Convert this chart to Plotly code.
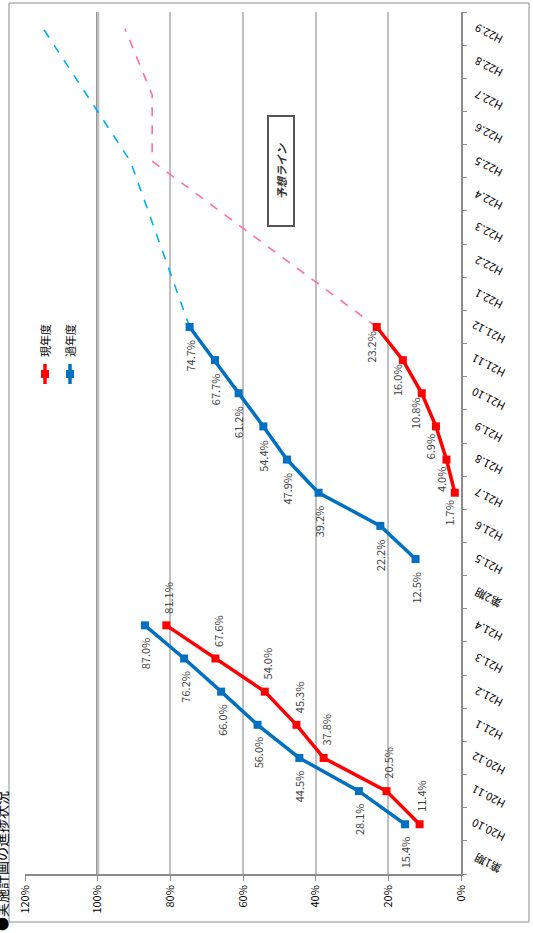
import plotly.graph_objects as go

# ---------------- data ----------------
categories = ["第1期", "H20.10", "H20.11", "H20.12", "H21.1", "H21.2", "H21.3", "H21.4",
              "第2期", "H21.5", "H21.6", "H21.7", "H21.8", "H21.9", "H21.10", "H21.11",
              "H21.12", "H22.1", "H22.2", "H22.3", "H22.4", "H22.5", "H22.6", "H22.7",
              "H22.8", "H22.9"]

p1_cats = ["H20.10", "H20.11", "H20.12", "H21.1", "H21.2", "H21.3", "H21.4"]
current_p1 = [11.4, 20.5, 37.8, 45.3, 54.0, 67.6, 81.1]
past_p1 = [15.4, 28.1, 44.5, 56.0, 66.0, 76.2, 87.0]

current_p2_cats = ["H21.7", "H21.8", "H21.9", "H21.10", "H21.11", "H21.12"]
current_p2 = [1.7, 4.0, 6.9, 10.8, 16.0, 23.2]

past_p2_cats = ["H21.5", "H21.6", "H21.7", "H21.8", "H21.9", "H21.10", "H21.11", "H21.12"]
past_p2 = [12.5, 22.2, 39.2, 47.9, 54.4, 61.2, 67.7, 74.7]

current_fc_cats = ["H21.12", "H22.5", "H22.6", "H22.7", "H22.9"]
current_fc = [23.2, 85.0, 85.0, 85.0, 92.5]

past_fc_cats = ["H21.12", "H22.5", "H22.9"]
past_fc = [74.7, 91.0, 115.0]

value_ticks = [0, 20, 40, 60, 80, 100, 120]
value_tick_labels = ["0%", "20%", "40%", "60%", "80%", "100%", "120%"]

series_names = ["現年度", "過年度"]
title_text = "●実施計画の進捗状況"
forecast_text = "予想ライン"

# ---------------- style ----------------
RED = "#FF0000"
BLUE = "#0070C0"
PINK = "#FF6FA3"
CYAN = "#00B0F0"
FONT = "Noto Sans CJK JP"
LBL = "#404040"

W, H = 533, 933
L, R, T, B = 25, 72, 12, 59
pw, ph = W - L - R, H - T - B


def px2paper_x(px):
    return (px - L) / pw


def px2paper_y(py):
    return (H - B - py) / ph


fig = go.Figure()

# forecast lines
fig.add_trace(go.Scatter(x=current_fc, y=current_fc_cats, mode="lines",
                         line=dict(color=PINK, width=1.6, dash="dash"), hoverinfo="skip"))
fig.add_trace(go.Scatter(x=past_fc, y=past_fc_cats, mode="lines",
                         line=dict(color=CYAN, width=1.6, dash="dash"), hoverinfo="skip"))

# actual lines
for xs, ys, col in [(past_p1, p1_cats, BLUE), (past_p2, past_p2_cats, BLUE),
                    (current_p1, p1_cats, RED), (current_p2, current_p2_cats, RED)]:
    fig.add_trace(go.Scatter(x=xs, y=ys, mode="lines+markers",
                             line=dict(color=col, width=3.5),
                             marker=dict(symbol="square", size=8, color=col)))

annotations = []


def add_labels(xs, ys, xshift, yshift):
    for v, c in zip(xs, ys):
        annotations.append(dict(x=v, y=c, xref="x", yref="y", text=f"{v:.1f}%",
                                showarrow=False, textangle=-90,
                                xanchor="center", yanchor="middle",
                                font=dict(family=FONT, size=11, color=LBL),
                                xshift=xshift, yshift=yshift))


add_labels(past_p1, p1_cats, 0, -28)
add_labels(past_p2, past_p2_cats, 0, -29)
add_labels(current_p1, p1_cats, 2, 28)
add_labels(current_p2, current_p2_cats, -6, -20)

# category labels (slanted, upside down like the source)
for c in categories:
    annotations.append(dict(x=px2paper_x(488), y=c, xref="paper", yref="y", text=c,
                            showarrow=False, textangle=-153,
                            xanchor="center", yanchor="middle", yshift=-6,
                            font=dict(family=FONT, size=11, color="#000000")))

# forecast label box
annotations.append(dict(x=px2paper_x(281.5), y=px2paper_y(171.5), xref="paper", yref="paper",
                        xanchor="center", yanchor="middle",
                        text=f"<b><i>{forecast_text}</i></b>", showarrow=False, textangle=-90,
                        font=dict(family=FONT, size=11, color="#333333"),
                        width=104, height=20, bgcolor="white",
                        bordercolor="#555555", borderwidth=2, borderpad=2))

# legend
for name, lx in [(series_names[0], 45), (series_names[1], 70)]:
    annotations.append(dict(x=px2paper_x(lx), y=px2paper_y(341), xref="paper", yref="paper",
                            xanchor="center", yanchor="middle",
                            text=name, showarrow=False, textangle=-90,
                            font=dict(family=FONT, size=11, color="#000000")))

# title (partly cut off at left edge, as in the source)
annotations.append(dict(x=px2paper_x(1), y=px2paper_y(933), xref="paper", yref="paper",
                        xanchor="center", yanchor="bottom",
                        text=title_text, showarrow=False, textangle=-90,
                        font=dict(family=FONT, size=14, color="#000000")))

shapes = []
# 100% emphasised line
shapes.append(dict(type="line", xref="x", yref="paper", x0=100, x1=100, y0=0, y1=1,
                   line=dict(color="#7F7F7F", width=3), layer="below"))
# legend glyphs
for col, lx in [(RED, 45), (BLUE, 70)]:
    shapes.append(dict(type="line", xref="paper", yref="paper",
                       x0=px2paper_x(lx), x1=px2paper_x(lx),
                       y0=px2paper_y(384), y1=px2paper_y(364),
                       line=dict(color=col, width=3.5)))
    shapes.append(dict(type="rect", xref="paper", yref="paper",
                       x0=px2paper_x(lx - 4), x1=px2paper_x(lx + 4),
                       y0=px2paper_y(378), y1=px2paper_y(370),
                       line=dict(width=0), fillcolor=col))
# outer frame
shapes.append(dict(type="rect", xref="paper", yref="paper",
                   x0=px2paper_x(9), x1=px2paper_x(529),
                   y0=px2paper_y(922), y1=px2paper_y(3),
                   line=dict(color="#8C8C8C", width=1), layer="below"))

fig.update_layout(
    width=W, height=H,
    margin=dict(l=L, r=R, t=T, b=B, autoexpand=False),
    paper_bgcolor="white", plot_bgcolor="white",
    showlegend=False,
    font=dict(family=FONT, size=11, color="#000000"),
    annotations=annotations,
    shapes=shapes,
    xaxis=dict(range=[120, 0], tickvals=value_ticks, ticktext=value_tick_labels,
               tickangle=-90, showgrid=True, gridcolor="#BFBFBF", gridwidth=1.5,
               zeroline=False, showline=True, linecolor="#8C8C8C", linewidth=1.5,
               ticks="outside", ticklen=5, tickcolor="#8C8C8C", automargin=False,
               tickfont=dict(family=FONT, size=11, color="#000000")),
    yaxis=dict(type="category", categoryorder="array", categoryarray=categories,
               tickvals=categories, range=[-0.5, len(categories) - 0.5],
               side="right", tickson="boundaries", ticks="outside", ticklen=4,
               tickcolor="#8C8C8C", showgrid=False, showline=True, showticklabels=False,
               linecolor="#8C8C8C", linewidth=1.5, zeroline=False, automargin=False),
)

fig.write_html("out.html", config={"displayModeBar": False},
               post_script="document.body.style.margin='0';document.body.style.overflow='hidden';")
